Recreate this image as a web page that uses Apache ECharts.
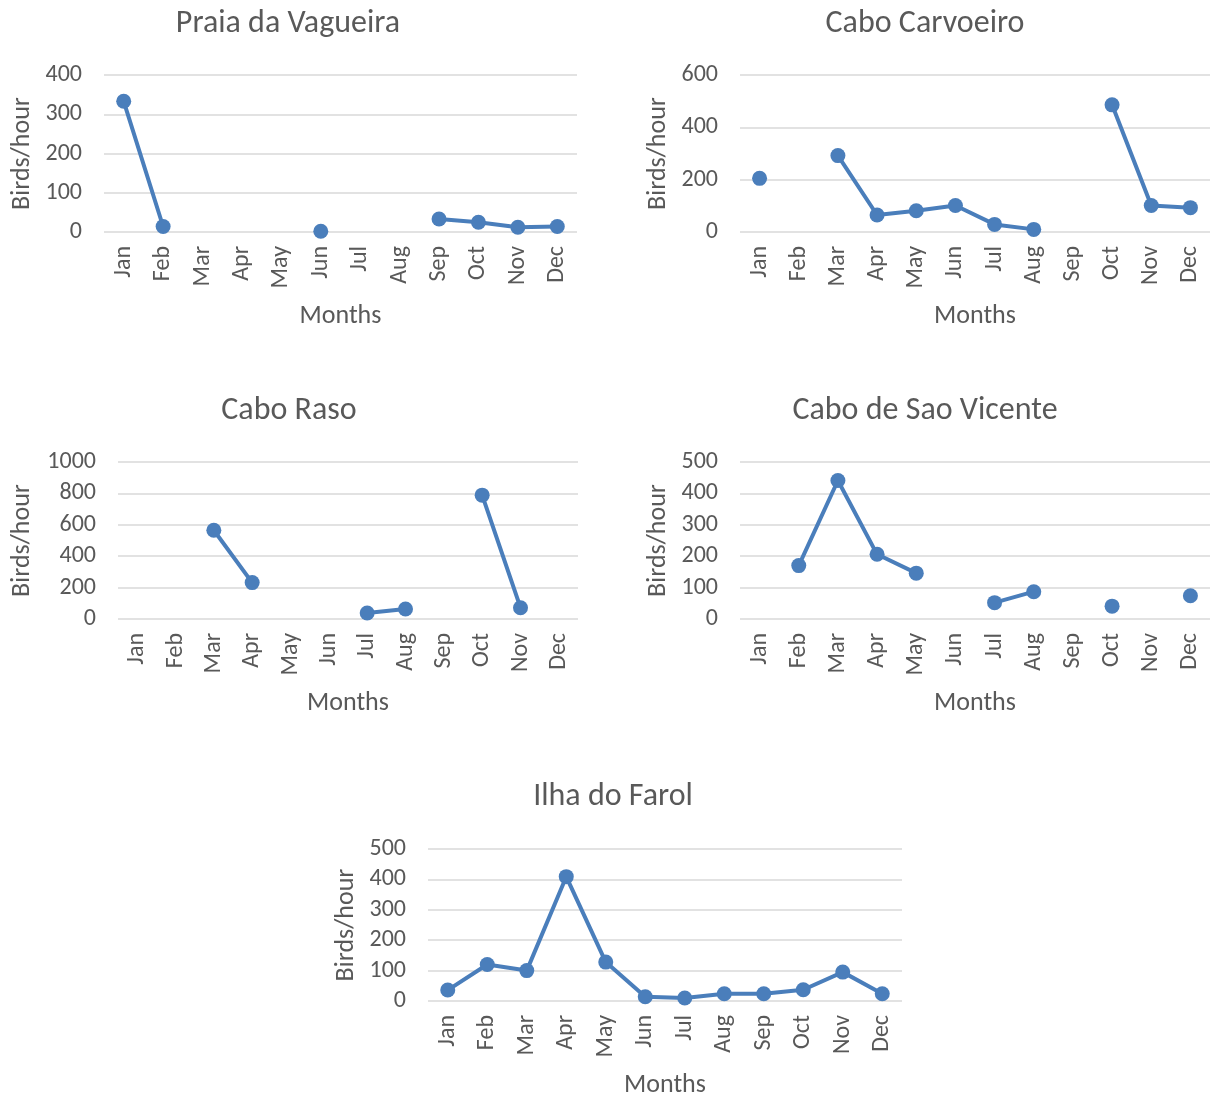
<!DOCTYPE html>
<html>
<head>
<meta charset="utf-8">
<script src="https://cdn.jsdelivr.net/npm/echarts@6/dist/echarts.min.js"></script>
<style>
html,body{margin:0;padding:0;background:#fff;overflow:hidden;width:1210px;height:1099px;}
#c{width:1210px;height:1099px;}
</style>
</head>
<body>
<div id="c"></div>
<script>
const months = ['Jan','Feb','Mar','Apr','May','Jun','Jul','Aug','Sep','Oct','Nov','Dec'];
const titles = ['Praia da Vagueira','Cabo Carvoeiro','Cabo Raso','Cabo de Sao Vicente','Ilha do Farol'];
const praiaVagueira = [333, 14, null, null, null, 2, null, null, 33, 25, 12, 14];
const caboCarvoeiro = [205, null, 292, 65, 81, 101, 29, 10, null, 486, 101, 93];
const caboRaso = [null, null, 565, 232, null, null, 38, 64, null, 789, 72, null];
const caboSaoVicente = [null, 170, 441, 206, 146, null, 52, 87, null, 41, null, 74];
const ilhaFarol = [36, 120, 100, 409, 128, 14, 10, 24, 24, 37, 95, 24];
const yMax = [400, 600, 1000, 500, 500];
const yInterval = [100, 200, 200, 100, 100];
const yAxisName = 'Birds/hour';
const xAxisName = 'Months';

const seriesData = [praiaVagueira, caboCarvoeiro, caboRaso, caboSaoVicente, ilhaFarol];

const FONT = 'Carlito, Calibri, Lato, "Noto Sans", sans-serif';
const TXT = '#595959';
const BLUE = '#4a7ebb';

const grids = [
  {left: 104, top: 75, width: 473, height: 157},
  {left: 740, top: 75, width: 473, height: 157},
  {left: 118, top: 462, width: 460, height: 157},
  {left: 740, top: 462, width: 473, height: 157},
  {left: 428, top: 849, width: 474, height: 156}
];
const titlePos = [[288, 8], [925, 8], [289, 395], [925, 395], [613, 781]];
const yNameGap = [69, 69, 83, 69, 69];

const option = {
  backgroundColor: '#fff',
  animation: false,
  title: titles.map((t, i) => ({
    text: t, left: titlePos[i][0], top: titlePos[i][1], textAlign: 'center', padding: 0,
    textStyle: {fontFamily: FONT, fontSize: 32, fontWeight: 'normal', color: TXT}
  })),
  grid: grids.map(g => Object.assign({containLabel: false}, g)),
  xAxis: grids.map((g, i) => ({
    type: 'category', gridIndex: i, data: months, boundaryGap: true,
    name: xAxisName, nameLocation: 'middle', nameGap: 71,
    nameTextStyle: {fontFamily: FONT, fontSize: 26, color: TXT},
    axisLine: {show: false}, axisTick: {show: false},
    axisLabel: {rotate: 90, margin: 14, fontFamily: FONT, fontSize: 24, color: TXT, interval: 0},
    splitLine: {show: false}
  })),
  yAxis: grids.map((g, i) => ({
    type: 'value', gridIndex: i, min: 0, max: yMax[i], interval: yInterval[i],
    name: yAxisName, nameLocation: 'middle', nameGap: yNameGap[i], nameRotate: 90,
    nameTextStyle: {fontFamily: FONT, fontSize: 26, color: TXT},
    axisLine: {show: false}, axisTick: {show: false},
    axisLabel: {margin: 22, fontFamily: FONT, fontSize: 24, color: TXT, formatter: v => String(v)},
    splitLine: {show: true, lineStyle: {color: '#d9d9d9', width: 1.5}}
  })),
  series: seriesData.map((d, i) => ({
    type: 'line', xAxisIndex: i, yAxisIndex: i, data: d,
    connectNulls: false, symbol: 'circle', symbolSize: 15, showSymbol: true, showAllSymbol: true,
    lineStyle: {color: BLUE, width: 4}, itemStyle: {color: BLUE}
  }))
};

const chart = echarts.init(document.getElementById('c'), null, {renderer: 'canvas'});
chart.setOption(option);
</script>
</body>
</html>
